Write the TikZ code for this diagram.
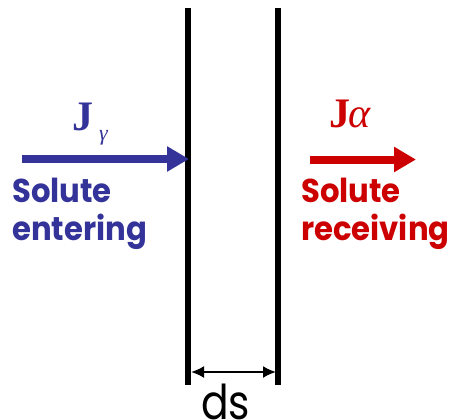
\documentclass[tikz,border=0pt]{standalone}
\usepackage{fontspec}
\setmainfont{Poppins}
\newfontfamily\lblfont[FakeStretch=0.93]{Poppins}
\newfontfamily\dsfont[FakeStretch=0.85]{Poppins}
\newfontfamily\jfont{Liberation Serif}
\usetikzlibrary{arrows.meta}
\definecolor{jblue}{RGB}{51,51,153}
\definecolor{jred}{RGB}{204,0,0}
\begin{document}
\begin{tikzpicture}[x=1pt,y=-1pt,
  wall/.style={line width=6pt},
  flux/.style={line width=8pt,-{Triangle[length=22pt,width=24pt]}},
  lbl/.style={font=\lblfont\fontsize{33}{36}\selectfont\bfseries,anchor=base west,inner sep=0pt},
  jlbl/.style={font=\jfont\fontsize{42}{42}\selectfont\bfseries,anchor=base west,inner sep=0pt},
  dim/.style={line width=2pt,{Latex[length=13pt,width=12pt]}-{Latex[length=13pt,width=12pt]}}]
\useasboundingbox (0,0) rectangle (458,420);
\coordinate (l1) at (188,8); \coordinate (l2) at (188,385);
\coordinate (r1) at (278,8); \coordinate (r2) at (278,385);
\draw[wall] (l1) -- (l2);
\draw[wall] (r1) -- (r2);
\coordinate (bs) at (22,159); \coordinate (bt) at (189,159);
\draw[flux,jblue] (bs) -- (bt);
\coordinate (rs) at (310,159.5); \coordinate (rt) at (416,159.5);
\draw[flux,jred] (rs) -- (rt);
\node[jlbl,text=jblue] (jg) at (72,130) {J};
\node[anchor=base west,inner sep=0pt,text=jblue,font=\jfont\fontsize{22}{22}\selectfont\itshape] (gam) at (99,140) {γ};
\node[jlbl,text=jred] (ja) at (329,128) {J};
\node[anchor=base west,inner sep=0pt,text=jred,font=\jfont\fontsize{42}{42}\selectfont\itshape] (alp) at (348,128) {α};
\node[lbl,text=jblue] (se1) at (12,202) {Solute};
\node[lbl,text=jblue] (se2) at (12,240) {entering};
\node[lbl,text=jred] (sr1) at (301,202) {Solute};
\node[lbl,text=jred] (sr2) at (301,240) {receiving};
\coordinate (d1) at (191,372); \coordinate (d2) at (276,372);
\draw[dim] (d1) -- (d2);
\node[font=\dsfont\fontsize{48}{48}\selectfont,anchor=base west,inner sep=0pt] (ds) at (201,419) {ds};
\end{tikzpicture}
\end{document}
